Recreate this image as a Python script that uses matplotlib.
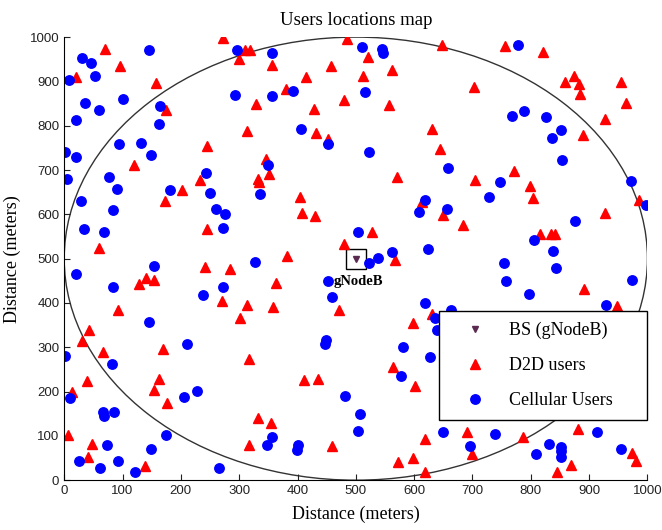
import matplotlib.pyplot as plt
from matplotlib.patches import Ellipse

# base station
bs_x, bs_y = 500, 500

# D2D users (red triangles)
d2d_x = [70, 95, 21, 157, 273, 300, 310, 319, 174, 329, 314, 245, 120, 232,
         485, 648, 357, 521, 457, 562, 415, 512, 381, 480, 429, 557, 432, 453, 630, 644, 346, 351, 333, 334, 571,
         756, 821, 703, 858, 874, 883, 885, 955, 963, 928, 890, 771, 704,
         202, 173, 245, 59, 241, 285, 140, 129, 154, 270, 314, 302, 93, 43,
         405, 407, 430, 527, 479, 382, 568, 614, 649, 363, 358, 471, 598, 631,
         799, 804, 684, 928, 985, 816, 835, 842, 891, 947,
         30, 67, 170, 317, 39, 163, 154, 13, 177, 6, 47, 40, 139, 316, 333,
         563, 601, 411, 436, 354, 459, 619, 573, 598, 618,
         691, 700, 787, 881, 869, 845, 973, 981]
d2d_y = [974, 935, 910, 896, 999, 950, 970, 971, 836, 849, 789, 755, 711, 678,
         996, 983, 937, 956, 935, 926, 910, 913, 883, 858, 838, 846, 783, 771, 792, 748, 725, 691, 680, 674, 684,
         979, 966, 887, 898, 913, 894, 871, 898, 851, 815, 779, 697, 678,
         656, 631, 566, 524, 482, 476, 457, 443, 451, 405, 396, 366, 383, 339,
         638, 603, 597, 561, 533, 507, 497, 628, 599, 444, 391, 384, 354, 374,
         664, 637, 575, 603, 633, 556, 556, 556, 432, 393,
         313, 289, 296, 273, 223, 229, 204, 200, 175, 101, 81, 53, 32, 80, 140,
         255, 213, 225, 228, 129, 78, 93, 41, 51, 19,
         108, 59, 98, 115, 35, 19, 61, 44]

# cellular users (blue circles)
cell_x = [146, 30, 46, 8, 53, 296, 293, 35, 60, 101, 21, 165, 163, 1, 21, 94, 132, 148, 5, 77, 243,
          356, 511, 545, 547, 356, 392, 515, 406, 453, 522, 349, 658,
          778, 768, 788, 826, 852, 836, 854, 747, 972,
          90, 28, 84, 34, 68, 181, 250, 260, 276, 272, 336, 327, 154, 21, 84, 273, 238, 146,
          618, 608, 656, 504, 562, 538, 522, 624, 452, 459, 618, 635, 639,
          729, 998, 875, 806, 838, 843, 754, 758, 797, 973, 929, 664,
          1, 210, 82, 10, 206, 228, 66, 68, 86, 74, 26, 93, 62, 122, 149, 174, 265,
          449, 447, 581, 627, 577, 481, 508, 504, 356, 347, 401, 399, 649,
          739, 695, 914, 831, 809, 851, 851, 851, 954]
cell_y = [971, 953, 941, 904, 913, 971, 870, 852, 836, 861, 812, 845, 805, 740, 730, 759, 761, 734, 680, 685, 693,
          964, 977, 974, 963, 866, 879, 875, 792, 759, 740, 712, 704,
          983, 822, 834, 819, 791, 773, 723, 672, 676,
          657, 629, 610, 566, 560, 655, 648, 613, 601, 569, 646, 493, 484, 466, 436, 436, 417, 357,
          633, 605, 612, 560, 514, 501, 491, 521, 450, 414, 401, 367, 338,
          640, 621, 585, 543, 518, 480, 490, 449, 420, 452, 396, 385,
          281, 308, 262, 185, 187, 202, 155, 145, 154, 80, 44, 44, 27, 19, 71, 102, 27,
          317, 307, 300, 278, 234, 190, 149, 110, 98, 80, 80, 68, 108,
          105, 77, 108, 82, 58, 76, 65, 53, 71]

serif = ['Liberation Serif', 'DejaVu Serif']
sans = ['Liberation Sans', 'DejaVu Sans']

fig = plt.figure(figsize=(6.62, 5.30), dpi=100)
ax = fig.add_axes([0.097, 0.094, 0.881, 0.836])

# cell coverage
ax.add_patch(Ellipse((bs_x, bs_y), 1000, 1000, fill=False, edgecolor='#333333', lw=1.0))

h_bs, = ax.plot(bs_x, bs_y, 'v', color='#5b2a50', ms=4.5, label='BS (gNodeB)')
ax.plot(bs_x, bs_y, 's', mfc='none', mec='black', ms=14.5, mew=1.0)
h_d2d, = ax.plot(d2d_x, d2d_y, '^', color='red', ms=6.5, ls='none', label='D2D users')
h_cell, = ax.plot(cell_x, cell_y, 'o', color='blue', ms=6.8, ls='none', label='Cellular Users')
ax.text(bs_x + 5, bs_y - 52, 'gNodeB', family=serif, fontsize=10.5, fontweight='bold',
        ha='center', va='center')

ax.set_xlim(0, 1000)
ax.set_ylim(0, 1000)
ax.set_xticks(range(0, 1001, 100))
ax.set_yticks(range(0, 1001, 100))
ax.spines['top'].set_visible(False)
ax.spines['right'].set_visible(False)
ax.tick_params(direction='in', length=4, labelsize=9.5, colors='#222222')
for lab in ax.get_xticklabels() + ax.get_yticklabels():
    lab.set_family(sans)

ax.set_title('Users locations map', family=serif, fontsize=13.5, pad=9)
ax.set_xlabel('Distance (meters)', family=serif, fontsize=13, labelpad=6)
ax.set_ylabel('Distance (meters)', family=serif, fontsize=13, labelpad=6)

leg = ax.legend(handles=[h_bs, h_d2d, h_cell], loc='lower left',
                bbox_to_anchor=(0.643, 0.136, 0.357, 0.251), mode='expand',
                borderaxespad=0, fancybox=False, edgecolor='black', framealpha=1,
                prop={'family': serif, 'size': 13}, labelspacing=1.0,
                handlelength=2.8, handletextpad=0.45, borderpad=0.6)
leg.get_frame().set_linewidth(1.0)

fig.savefig('out.png')
